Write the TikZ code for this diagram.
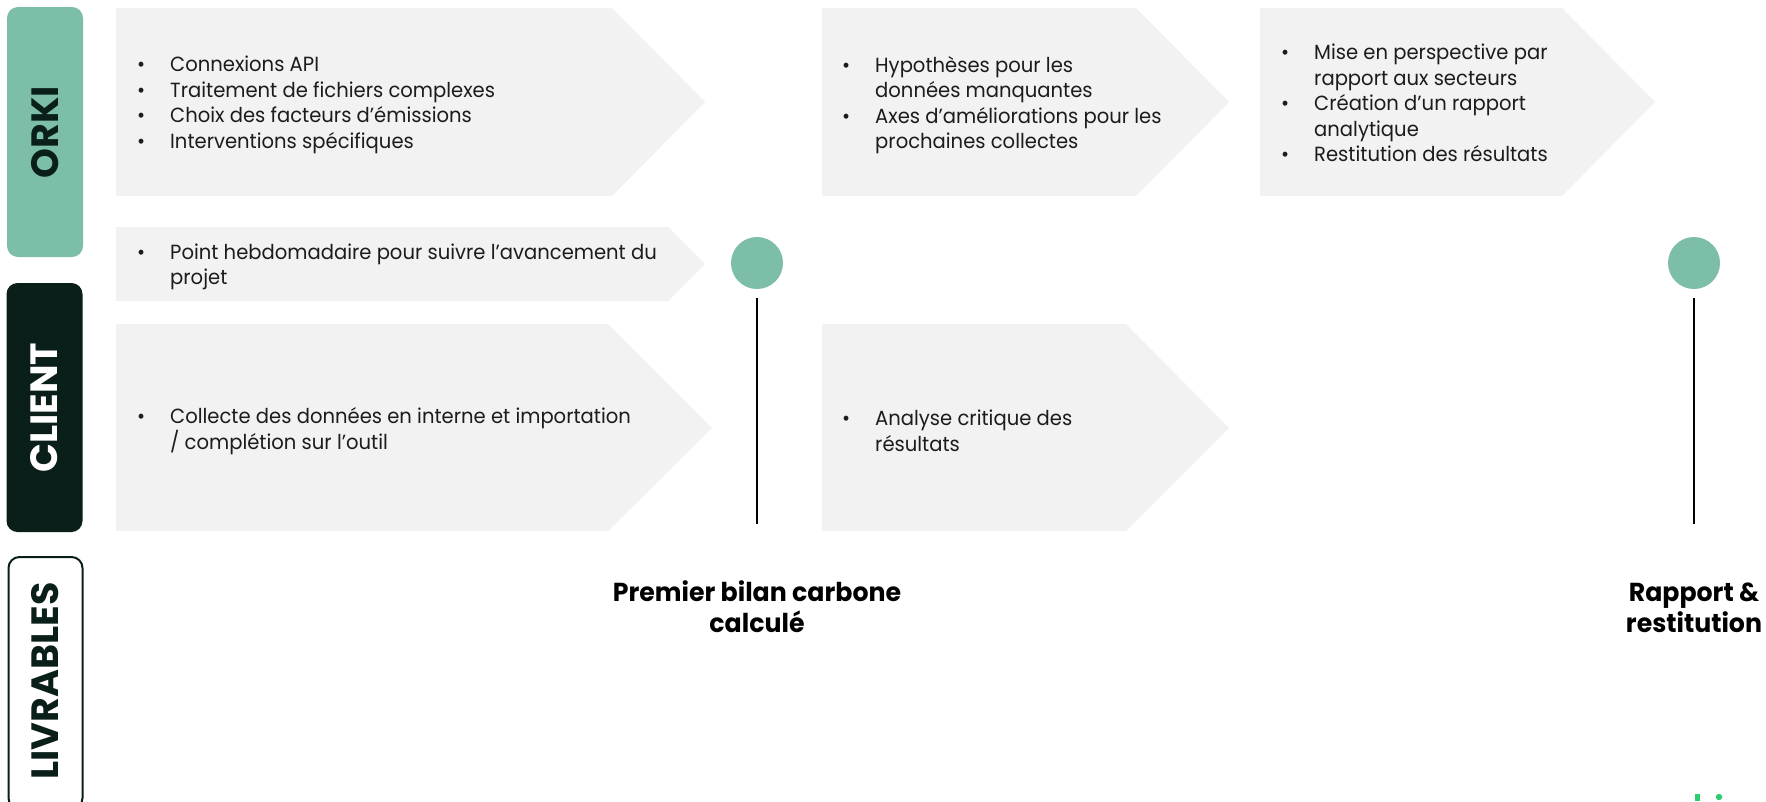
\documentclass[tikz,border=0pt]{standalone}
\usepackage{fontspec}
\setmainfont{Poppins}
\newfontfamily\bodyfont{Poppins}[FakeStretch=0.955]
\newfontfamily\delivfont{Poppins}[FakeStretch=0.97]
\definecolor{orkigreen}{HTML}{7DBEA8}
\definecolor{darkgreen}{HTML}{0A1F1A}
\definecolor{arrowfill}{HTML}{F2F2F2}
\definecolor{logogreen}{HTML}{2ECC71}
\definecolor{bodytext}{HTML}{1C1C1C}
\newcommand{\bul}{\llap{\textbullet\hspace{25pt}}}
\begin{document}
\begin{tikzpicture}[x=1pt,y=-1pt,
  chevron/.style={fill=arrowfill,draw=none},
  body/.style={font=\bodyfont\fontsize{20.5}{25.5}\selectfont, text=bodytext, align=left, anchor=west, inner sep=0pt},
  tabbox/.style={rectangle, rounded corners=11pt, minimum width=76pt, inner sep=0pt},
  tablabel/.style={rotate=90, font=\fontsize{38}{38}\selectfont\bfseries, inner sep=0pt},
  deliv/.style={font=\delivfont\fontsize{26}{31}\selectfont\bfseries, align=center, inner sep=0pt, text=black},
  milestone/.style={circle, fill=orkigreen, minimum size=52pt, inner sep=0pt},
  stem/.style={line width=2pt, draw=black},
]
\useasboundingbox (0,0) rectangle (1766,801);
\fill[white] (0,0) rectangle (1766,801);
\clip (0,0) rectangle (1766,801);

% side tabs
\node[tabbox, fill=orkigreen, minimum height=250pt] (orki) at (45,132) {};
\node[tablabel, text=darkgreen] (orkilab) at (orki.center) {ORKI};
\node[tabbox, fill=darkgreen, minimum height=249pt] (client) at (44.5,407.5) {};
\node[tablabel, text=white] (clientlab) at (client.center) {CLIENT};
\node[tabbox, draw=darkgreen, line width=2pt, fill=white, minimum width=74pt, minimum height=252pt] (livr) at (45.5,683) {};
\node[tablabel, text=darkgreen] (livrlab) at (45.5,681) {LIVRABLES};

% chevrons
\fill[chevron] (116,8) -- (612,8) -- (705,102) -- (612,196) -- (116,196) -- cycle;
\fill[chevron] (116,227) -- (668,227) -- (705,264) -- (668,301) -- (116,301) -- cycle;
\fill[chevron] (822,8) -- (1136,8) -- (1229,102) -- (1136,196) -- (822,196) -- cycle;
\fill[chevron] (1260,8) -- (1562,8) -- (1655,102) -- (1562,196) -- (1260,196) -- cycle;
\fill[chevron] (116,324) -- (608,324) -- (712,428) -- (608,531) -- (116,531) -- cycle;
\fill[chevron] (822,324) -- (1126,324) -- (1229,428) -- (1126,531) -- (822,531) -- cycle;

% texts
\node[body] (t1) at (170,105) {\bul Connexions API\\\bul Traitement de fichiers complexes\\\bul Choix des facteurs d’émissions\\\bul Interventions spécifiques};
\node[body] (t2) at (170,267) {\bul Point hebdomadaire pour suivre l’avancement du\\projet};
\node[body] (t3) at (875,105) {\bul Hypothèses pour les\\données manquantes\\\bul Axes d’améliorations pour les\\prochaines collectes};
\node[body] (t4) at (1314,103) {\bul Mise en perspective par\\rapport aux secteurs\\\bul Création d’un rapport\\analytique\\\bul Restitution des résultats};
\node[body] (t5) at (170,431) {\bul Collecte des données en interne et importation\\/ complétion sur l’outil};
\node[body] (t6) at (875,431) {\bul Analyse critique des\\résultats};

% milestones
\node[milestone] (c1) at (757,263) {};
\node[milestone] (c2) at (1694,263) {};
\coordinate (s1a) at (757,298);
\coordinate (s1b) at (757,524);
\coordinate (s2a) at (1694,298);
\coordinate (s2b) at (1694,524);
\draw[stem] (s1a) -- (s1b);
\draw[stem] (s2a) -- (s2b);

% deliverables
\node[deliv] (d1) at (757,607) {Premier bilan carbone\\calculé};
\node[deliv] (d2) at (1694,608) {Rapport \&\\restitution};

% logo fragment at bottom edge
\fill[logogreen] (1695,794) rectangle (1700,801);
\fill[logogreen] (1719,797) circle (3.2);
\end{tikzpicture}
\end{document}
